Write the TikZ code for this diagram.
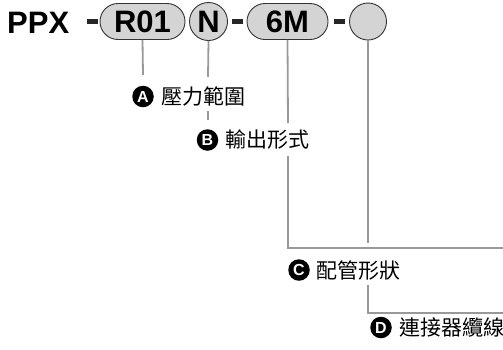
\documentclass[tikz,border=0pt]{standalone}
\usepackage{fontspec}
\setmainfont{Liberation Sans}
\newfontfamily\cjk{Noto Sans CJK TC}
\usetikzlibrary{shapes.misc}
\begin{document}
\begin{tikzpicture}[x=1pt,y=-1pt,
 pill/.style={rounded rectangle, draw=black!80, line width=0.9pt, fill=black!17, minimum height=36pt, inner sep=0pt, font=\fontsize{31}{31}\selectfont\bfseries},
 ball/.style={circle, draw=black!80, line width=0.9pt, fill=black!17, minimum size=37pt, inner sep=0pt, font=\fontsize{31}{31}\selectfont\bfseries},
 dashbar/.style={fill=black!85, minimum width=11pt, minimum height=5pt, inner sep=0pt},
 conn/.style={draw=black!40, line width=1.8pt},
 badge/.style={circle, fill=black, text=white, minimum size=21.5pt, inner sep=0pt, font=\fontsize{16}{16}\selectfont\bfseries},
 lbl/.style={font=\cjk\fontsize{21}{21}\selectfont, inner sep=0pt, anchor=west}
]
\useasboundingbox (0,0) rectangle (503,349);
% free ends of the connectors
\coordinate (a1) at (143,75);
\coordinate (n1) at (208,77);
\coordinate (n2) at (208,111);
\coordinate (n3) at (208,120);
\coordinate (m1) at (288,123);
\coordinate (m2) at (288,156);
\coordinate (m3) at (288,248);
\coordinate (m4) at (503,248);
\coordinate (b1) at (368,243);
\coordinate (b2) at (368,285);
\coordinate (b3) at (368,313);
\coordinate (b4) at (503,313);
% top row
\node[anchor=west, inner sep=0pt, font=\fontsize{31}{31}\selectfont\bfseries] (ppx) at (7,23) {PPX};
\node[dashbar] (d1) at (92,21.5) {};
\node[pill, minimum width=85pt] (r01) at (142.5,21.5) {R01};
\node[ball, minimum size=38pt] (n) at (208.5,21.5) {N};
\node[dashbar] (d2) at (237.5,21.5) {};
\node[pill, minimum width=81pt] (m) at (287.5,21.5) {6M};
\node[dashbar] (d3) at (339.5,21.5) {};
\node[ball] (b) at (368,21.5) {};
% connectors
\draw[conn] (r01.south) -- (a1);
\draw[conn] (n.south) -- (n1);
\draw[conn] (n2) -- (n3);
\draw[conn] (m.south) -- (m1);
\draw[conn] (m2) -- (m3) -- (m4);
\draw[conn] (b.south) -- (b1);
\draw[conn] (b2) -- (b3) -- (b4);
% labels
\node[badge] (ca) at (143,96.5) {A};
\node[lbl] (ta) at (161.5,96.5) {壓力範圍};
\node[badge] (cb) at (207.5,140) {B};
\node[lbl] (tb) at (225,140) {輸出形式};
\node[badge] (cc) at (299,270) {C};
\node[lbl] (tc) at (316,270) {配管形狀};
\node[badge] (cd) at (381,327.5) {D};
\node[lbl] (td) at (399,327.5) {連接器纜線};
\end{tikzpicture}
\end{document}
